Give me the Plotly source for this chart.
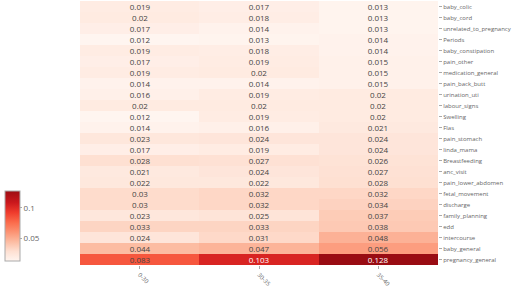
import plotly.graph_objects as go

age_groups = ["0-30", "30-35", "35-40"]
topics = ["baby_colic", "baby_cord", "unrelated_to_pregnancy", "Periods", "baby_constipation",
          "pain_other", "medication_general", "pain_back_butt", "urination_uti", "labour_signs",
          "Swelling", "Flas", "pain_stomach", "linda_mama", "Breastfeeding", "anc_visit",
          "pain_lower_abdomen", "fetal_movement", "discharge", "family_planning", "edd",
          "intercourse", "baby_general", "pregnancy_general"]
col_0_30 = [0.019, 0.02, 0.017, 0.012, 0.019, 0.017, 0.019, 0.014, 0.016, 0.02, 0.012, 0.014,
            0.023, 0.017, 0.028, 0.021, 0.022, 0.03, 0.03, 0.023, 0.033, 0.024, 0.044, 0.083]
col_30_35 = [0.017, 0.018, 0.014, 0.013, 0.018, 0.019, 0.02, 0.014, 0.019, 0.02, 0.019, 0.016,
             0.024, 0.019, 0.027, 0.024, 0.022, 0.032, 0.032, 0.025, 0.033, 0.031, 0.047, 0.103]
col_35_40 = [0.013, 0.013, 0.013, 0.014, 0.014, 0.015, 0.015, 0.015, 0.02, 0.02, 0.02, 0.021,
             0.024, 0.024, 0.026, 0.027, 0.028, 0.032, 0.034, 0.037, 0.038, 0.048, 0.056, 0.128]

z = [list(r) for r in zip(col_0_30, col_30_35, col_35_40)]

brewer = ["rgb(255,245,240)", "rgb(254,224,210)", "rgb(252,187,161)", "rgb(252,146,114)",
          "rgb(251,106,74)", "rgb(239,59,44)", "rgb(203,24,29)", "rgb(165,15,21)"]
scale = [[i / 8 / 0.9, c] for i, c in enumerate(brewer)]
scale.append([1.0, "rgb(153,12,19)"])

fig = go.Figure(go.Heatmap(
    z=z, x=age_groups, y=topics,
    colorscale=scale, zmin=0.012, zmax=0.128,
    texttemplate="%{z}", textfont=dict(size=8, family="Open Sans"),
    colorbar=dict(x=-0.2095, xanchor="left", xpad=0, ypad=0,
                  y=0.015, yanchor="bottom", len=0.265, lenmode="fraction",
                  thickness=15, outlinewidth=1, outlinecolor="#aaa",
                  tickvals=[0.05, 0.1], ticktext=["0.05", "0.1"],
                  ticks="outside", ticklen=2, tickcolor="#aaa",
                  tickfont=dict(size=8, color="#666")),
))
fig.update_layout(
    width=512, height=292,
    margin=dict(l=80, r=74, t=1, b=27, autoexpand=False),
    paper_bgcolor="white", plot_bgcolor="white",
    font=dict(family="Open Sans", color="#666"),
)
fig.update_yaxes(autorange="reversed", side="right", ticks="outside", ticklen=3,
                 tickcolor="#aaa", tickfont=dict(size=6, color="#666"), showgrid=False,
                 automargin=False)
fig.update_xaxes(tickangle=45, ticks="outside", ticklen=3, tickcolor="#aaa",
                 tickfont=dict(size=6, color="#666"), showgrid=False, automargin=False)
post = "document.body.style.margin='0'; document.body.style.overflow='hidden';"
fig.write_html("out.html", post_script=post)
